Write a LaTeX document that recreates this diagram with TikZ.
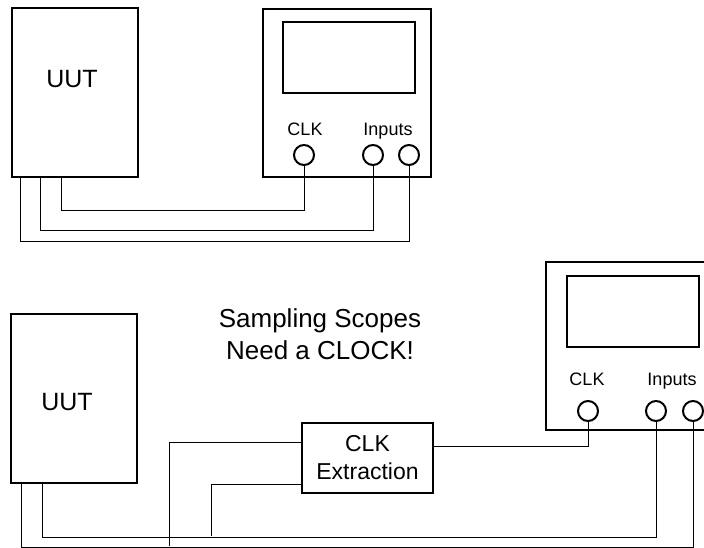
\documentclass[tikz,border=0pt]{standalone}
\usepackage{fontspec}
\setmainfont{Liberation Sans}

\begin{document}
\begin{tikzpicture}[
  x=1pt, y=-1pt,
  unitbox/.style={draw, line width=2pt, minimum width=126pt, minimum height=169pt, inner sep=0pt},
  scopebox/.style={draw, line width=2pt, minimum width=168pt, minimum height=168pt, inner sep=0pt},
  screen/.style={draw, line width=2pt, minimum width=132pt, minimum height=71pt, inner sep=0pt},
  extbox/.style={draw, line width=2pt, minimum width=131pt, minimum height=70pt, inner sep=0pt, align=center, font=\fontsize{23}{28}\selectfont},
  jack/.style={draw, circle, line width=2pt, minimum size=20pt, inner sep=0pt},
  lbl/.style={font=\fontsize{18}{22}\selectfont, anchor=base, inner sep=0pt},
  big/.style={font=\fontsize{25}{30}\selectfont, anchor=base, inner sep=0pt},
  wire/.style={line width=1pt}
]
\useasboundingbox (0,0) rectangle (704,547);

% direct connection
\node[unitbox] (uutA) at (74.5,92.5) {};
\node[big] (uutAtxt) at (72,87) {UUT};
\node[scopebox] (scopeA) at (347,92.5) {};
\node[screen] (screenA) at (349,57.5) {};
\node[lbl] (clkAtxt) at (305,135) {CLK};
\node[lbl] (inAtxt) at (388,135) {Inputs};
\node[jack] (clkA) at (304,155) {};
\node[jack] (inA1) at (373,155) {};
\node[jack] (inA2) at (409,155) {};
\draw[wire] ([xshift=51pt]uutA.south west) -- ++(0,32) -| (clkA.south);
\draw[wire] ([xshift=30pt]uutA.south west) -- ++(0,52) -| (inA1.south);
\draw[wire] ([xshift=10pt]uutA.south west) -- ++(0,63) -| (inA2.south);

% with clock extraction
\node[unitbox] (uutB) at (74,398.5) {};
\node[big] (uutBtxt) at (67,410) {UUT};
\node[align=center, inner sep=0pt, font=\fontsize{26}{32}\selectfont] (note) at (320,334.5) {Sampling Scopes\\Need a CLOCK!};
\node[extbox] (ext) at (367.5,458) {CLK\\Extraction};
\node[scopebox] (scopeB) at (630,346) {};
\node[screen] (screenB) at (632.5,311) {};
\node[lbl] (clkBtxt) at (587,385) {CLK};
\node[lbl] (inBtxt) at (672,385) {Inputs};
\node[jack] (clkB) at (588,411) {};
\node[jack] (inB1) at (656,411) {};
\node[jack] (inB2) at (693,411) {};
\draw[wire] ([xshift=32pt]uutB.south west) -- ++(0,53) -| (inB1.south);
\draw[wire] ([xshift=11pt]uutB.south west) -- ++(0,63) -| (inB2.south);
\coordinate (tapA) at (169,546);
\coordinate (tapB) at (211,536);
\draw[wire] (tapA) |- ([yshift=16pt]ext.west);
\draw[wire] (tapB) |- ([yshift=-26pt]ext.west);
\draw[wire] ([yshift=12pt]ext.east) -| (clkB.south);
\end{tikzpicture}
\end{document}
